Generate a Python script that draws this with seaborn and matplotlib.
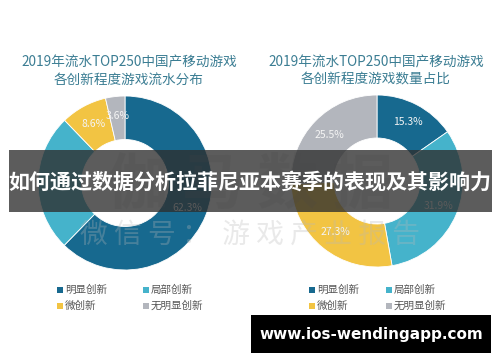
import matplotlib
matplotlib.use("Agg")
import matplotlib.pyplot as plt
import seaborn as sns
from matplotlib.patches import Rectangle

# data
categories = ["明显创新", "局部创新", "微创新", "无明显创新"]
revenue_share = [62.3, 25.5, 8.6, 3.6]
count_share = [15.3, 31.9, 27.3, 25.5]
left_title = "2019年流水TOP250中国产移动游戏\n各创新程度游戏流水分布"
right_title = "2019年流水TOP250中国产移动游戏\n各创新程度游戏数量占比"
banner = "如何通过数据分析拉菲尼亚本赛季的表现及其影响力"
site = "www.ios-wendingapp.com"

colors = ["#17698f", "#45b3cb", "#f2c443", "#b3b6bd"]

sns.set_theme(style="white")
plt.rcParams["font.family"] = ["Noto Sans CJK SC", "DejaVu Sans"]

W, H = 500, 362
fig = plt.figure(figsize=(5, 3.62), dpi=100)
fig.patch.set_facecolor("white")


def px(x, y):
    return x / W, 1 - y / H


def donut(cx, cy, r, values, hidden):
    ax = fig.add_axes([(cx - r) / W, (H - cy - r) / H, 2 * r / W, 2 * r / H])
    wedges, texts, autotexts = ax.pie(
        values, colors=colors, startangle=90, counterclock=False,
        wedgeprops=dict(width=0.5, edgecolor="white", linewidth=0.6),
        autopct="%.1f%%", pctdistance=0.77,
        textprops=dict(color="#f4f4f4", fontsize=7.5),
    )
    for i in hidden:
        autotexts[i].set_visible(False)
    ax.set_xlim(-1, 1)
    ax.set_ylim(-1, 1)
    ax.set_aspect("auto")
    ax.axis("off")
    return ax


donut(125, 183, 87, revenue_share, hidden=[1])
donut(377, 181, 86, count_share, hidden=[])

# titles
for cx, t in [(129, left_title), (376, right_title)]:
    fig.text(*px(cx, 71), t, ha="center", va="center", fontsize=9.8,
             color="#3b7d93", linespacing=1.25)

# watermark
fig.text(*px(250, 186), "伽 马 数 据", ha="center", va="center", fontsize=44,
         color="#9a9a9a", alpha=0.15, fontweight="bold", zorder=4)
fig.text(*px(250, 235), "微 信 号 ：  游 戏 产 业 报 告", ha="center", va="center",
         fontsize=20, color="#b8b8b8", alpha=0.3, zorder=4)

# legends
for lx, ly in [(60, 290), (312, 290)]:
    for i, name in enumerate(categories):
        x = lx + (i % 2) * (86 if lx < 250 else 77)
        y = ly + (i // 2) * 16
        fig.patches.append(Rectangle(px(x - 3, y + 3), 6 / W, 6 / H,
                                     transform=fig.transFigure,
                                     facecolor=colors[i], edgecolor="none"))
        fig.text(*px(x + 5, y), name, ha="left", va="center", fontsize=7.6,
                 color="#555555")

# banner
fig.patches.append(Rectangle(px(9, 212), 483 / W, 62 / H, transform=fig.transFigure,
                             facecolor="#2e2e2e", alpha=0.78, edgecolor="none", zorder=5))
fig.text(*px(250, 182), banner, ha="center", va="center", fontsize=15.1,
         fontweight="bold", color="white", zorder=6)

# site box
fig.patches.append(Rectangle(px(251, 353), 240 / W, 38 / H, transform=fig.transFigure,
                             facecolor="black", edgecolor="none", zorder=5))
fig.text(*px(371, 334), site, ha="center", va="center", fontsize=11,
         fontweight="bold", color="white", family="DejaVu Sans", zorder=6)

fig.savefig("out.png", dpi=100)
